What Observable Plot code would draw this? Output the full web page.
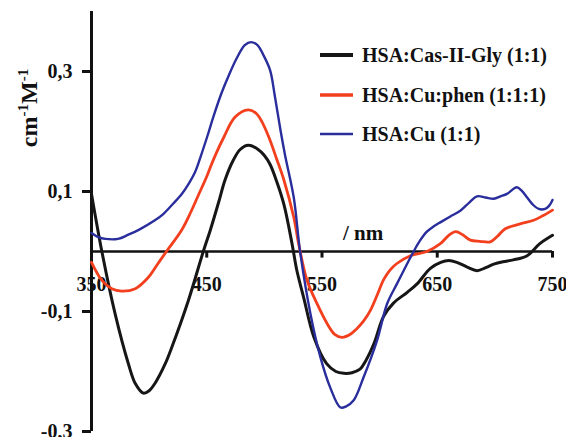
<!DOCTYPE html>
<html><head><meta charset="utf-8">
<script src="https://cdn.jsdelivr.net/npm/d3@7"></script>
<script src="https://cdn.jsdelivr.net/npm/@observablehq/plot@0.6"></script>
<style>
body{margin:0;background:#fff;}
#wrap{position:relative;width:566px;height:437px;}
</style></head><body><div id="wrap"></div>
<script>
// ---- data ----
const seriesNames = ["HSA:Cas-II-Gly (1:1)", "HSA:Cu:phen (1:1:1)", "HSA:Cu (1:1)"];
const seriesColors = ["#161616", "#f2401f", "#2a2e9c"];
const seriesWidths = [3, 2.8, 2.4];

const blackNm  = [350,359,370.5,382,388,395,400,405,414,419.6,434,447,453,460,466,473,479,486,494,500,505,511,517,524,528,534,543,554,562,569,576,583,588,595,603.5,612,624,632.5,644,653,660,667,676,684.5,692,699,707,716,728,739,750];
const blackVal = [0.096,0,-0.104,-0.187,-0.22,-0.236,-0.232,-0.22,-0.187,-0.16,-0.082,0,0.035,0.08,0.12,0.152,0.17,0.177,0.171,0.16,0.145,0.115,0.078,0.013,-0.03,-0.076,-0.143,-0.187,-0.2,-0.203,-0.202,-0.196,-0.182,-0.154,-0.108,-0.086,-0.068,-0.054,-0.028,-0.018,-0.015,-0.018,-0.026,-0.032,-0.027,-0.021,-0.017,-0.014,-0.007,0.013,0.027];

const redNm  = [350,359,367.6,376,388,399.4,407,415,428,436,443,450,456,464.7,474.6,486,493,499,505,510.5,516.8,525.5,530,537,545.7,554.4,561,567.4,574.6,580,586,592,598,603.5,609,615,626.7,641,652.7,660,666,672,678.7,687,696,702,709,722,733.6,742,750];
const redVal = [-0.018,-0.048,-0.062,-0.066,-0.062,-0.043,-0.022,0,0.035,0.065,0.095,0.125,0.154,0.19,0.224,0.236,0.23,0.212,0.185,0.155,0.12,0.057,0.01,-0.048,-0.087,-0.12,-0.138,-0.143,-0.138,-0.129,-0.116,-0.098,-0.072,-0.047,-0.031,-0.02,-0.007,0,0.013,0.027,0.033,0.028,0.019,0.017,0.016,0.025,0.038,0.046,0.052,0.06,0.069];

const blueNm  = [350,356,362,373,382,391,405,412,420,428,434,440,444.5,451,456,463,469,476,483,488.5,494,499,505,509,514,518,525.5,531,540,548.6,557,566,571,577.5,586,597.8,606.5,615,624,629.5,635,641,647,653,661,670,678,684.5,692,699,705,710.5,719,723,728,733,738,743.6,747,750];
const blueVal = [0.031,0.024,0.021,0.021,0.028,0.036,0.052,0.062,0.078,0.095,0.112,0.133,0.157,0.195,0.226,0.265,0.293,0.322,0.344,0.349,0.344,0.328,0.302,0.26,0.202,0.16,0.09,0,-0.104,-0.176,-0.226,-0.26,-0.258,-0.248,-0.21,-0.148,-0.087,-0.054,-0.02,0,0.018,0.033,0.042,0.049,0.058,0.068,0.082,0.092,0.09,0.088,0.092,0.096,0.107,0.102,0.09,0.078,0.071,0.071,0.076,0.086];

const xDomain = [350, 750];
const yDomain = [-0.3, 0.4];
const xTicks = [350, 450, 550, 650, 750];
const xTickLabels = ["350", "450", "550", "650", "750"];
const yTicks = [0.3, 0.1, -0.1, -0.3];
const yTickLabels = ["0,3", "0,1", "-0,1", "-0,3"];
const xLabel = "/ nm";

// ---- build ----
const font = '"Liberation Serif","Times New Roman",serif';
const series = [
  blackNm.map((x, i) => ({x, y: blackVal[i], s: 0})),
  redNm.map((x, i) => ({x, y: redVal[i], s: 1})),
  blueNm.map((x, i) => ({x, y: blueVal[i], s: 2}))
];

const chart = Plot.plot({
  width: 566, height: 437,
  marginLeft: 91, marginRight: 14, marginTop: 11, marginBottom: 6,
  x: {domain: xDomain, axis: null},
  y: {domain: yDomain},
  style: {fontFamily: font, fontWeight: "bold", fontSize: "20px", color: "#111", background: "#fff", overflow: "visible"},
  marks: [
    Plot.ruleX([xDomain[0]], {stroke: "#111", strokeWidth: 3}),
    Plot.axisY(yTicks, {tickSize: 9, tickPadding: 10, strokeWidth: 3, label: null,
      tickFormat: d => yTickLabels[yTicks.indexOf(d)], fontSize: 20, fontWeight: "bold", fill: "#111"}),
    Plot.ruleY([0], {stroke: "#111", strokeWidth: 2.5}),
    Plot.ruleX(xTicks.slice(1), {y1: 0, y2: -0.011, stroke: "#111", strokeWidth: 3}),
    Plot.text(xTicks, {x: d => d, y: 0, dy: 33,
      text: (d, i) => xTickLabels[i], fontSize: 20, fontWeight: "bold", fill: "#111"}),
    ...series.map((data, k) => Plot.line(data, {x: "x", y: "y", stroke: seriesColors[k],
      strokeWidth: seriesWidths[k], curve: "catmull-rom"}))
  ]
});

document.getElementById("wrap").appendChild(chart);
const svg = d3.select(chart);

// y-axis label (rotated)
const yl = svg.append("text")
  .attr("transform", "translate(37,108) rotate(-90)")
  .attr("text-anchor", "middle")
  .attr("font-family", font).attr("font-weight", "bold").attr("font-size", 24).attr("fill", "#111");
yl.append("tspan").text("cm");
yl.append("tspan").attr("dy", -9).attr("font-size", 15).text("-1");
yl.append("tspan").attr("dy", 9).text("M");
yl.append("tspan").attr("dy", -9).attr("font-size", 15).text("-1");

// x-axis label
svg.append("text").attr("x", 343).attr("y", 233).attr("dy", "0.35em").attr("text-anchor", "start")
  .attr("font-family", font).attr("font-weight", "bold").attr("font-size", 21).attr("fill", "#111")
  .text(xLabel);

// legend
const rows = [55, 95, 134];
seriesNames.forEach((name, i) => {
  svg.append("line").attr("x1", 320).attr("x2", 353).attr("y1", rows[i]).attr("y2", rows[i])
    .attr("stroke", seriesColors[i]).attr("stroke-width", [4, 3.5, 2.5][i]);
  svg.append("text").attr("x", 362).attr("y", rows[i]).attr("dy", "0.35em").attr("text-anchor", "start")
    .attr("font-family", font).attr("font-weight", "bold").attr("font-size", 20).attr("fill", "#111")
    .text(name);
});
</script></body></html>
